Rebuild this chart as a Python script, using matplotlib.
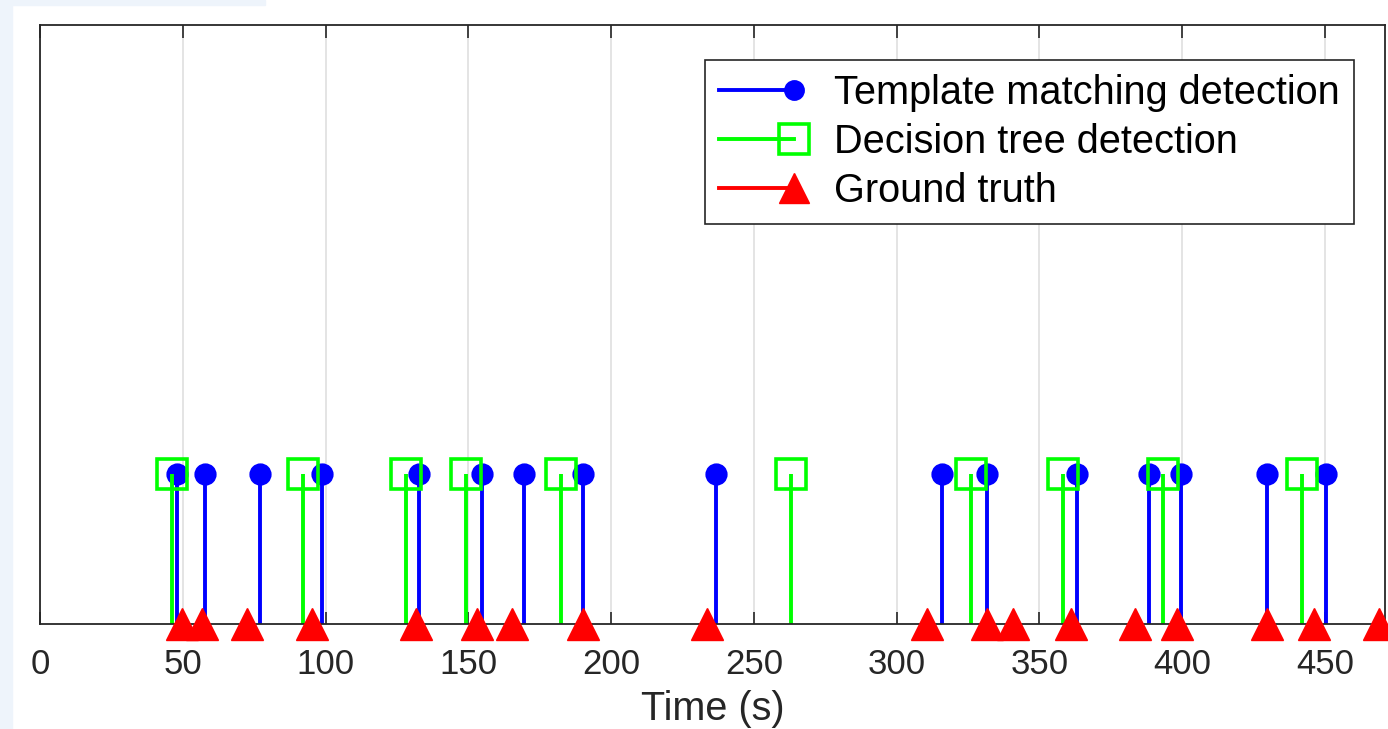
import numpy as np
import matplotlib.pyplot as plt
from matplotlib.lines import Line2D
from matplotlib.legend_handler import HandlerLine2D
from matplotlib.patches import Rectangle

# event times (s)
template_times = [48.0, 57.8, 77.0, 98.7, 132.7, 154.7, 169.4, 190.1, 236.6,
                  315.7, 331.8, 363.3, 388.2, 399.4, 429.8, 450.5]
tree_times = [46.2, 92.1, 128.1, 149.1, 182.4, 262.9, 325.9, 358.1, 393.4, 442.1]
truth_times = [49.7, 56.7, 72.5, 95.2, 131.6, 153.0, 165.2, 190.1, 233.5, 310.5,
               331.8, 340.6, 360.9, 383.3, 398.0, 429.8, 446.3, 469.0]
x_ticks = [0, 50, 100, 150, 200, 250, 300, 350, 400, 450]
labels = ['Template matching detection', 'Decision tree detection', 'Ground truth']

BLUE = (0, 0, 1)
GREEN = (0, 1, 0)
RED = (1, 0, 0)
DARK = '#262626'

plt.rcParams['font.family'] = ['Liberation Sans', 'DejaVu Sans']


class StemHandler(HandlerLine2D):
    """Legend entry like MATLAB stem: line with the marker at its right end"""
    def create_artists(self, legend, orig_handle, xdescent, ydescent,
                       width, height, fontsize, trans):
        y = height / 2 - ydescent
        line = Line2D([-xdescent, width - xdescent], [y, y],
                      color=orig_handle.get_color(),
                      linewidth=orig_handle.get_linewidth())
        mark = Line2D([width - xdescent], [y], linestyle='none',
                      marker=orig_handle.get_marker(),
                      markersize=orig_handle.get_markersize(),
                      markerfacecolor=orig_handle.get_markerfacecolor(),
                      markeredgecolor=orig_handle.get_markeredgecolor(),
                      markeredgewidth=orig_handle.get_markeredgewidth())
        line.set_transform(trans)
        mark.set_transform(trans)
        return [line, mark]


W, H = 1388, 729
fig = plt.figure(figsize=(W / 100, H / 100), dpi=100)

# pale screenshot border
fig.patches.append(Rectangle((0, 0), 12 / W, 1, transform=fig.transFigure,
                             color='#eef4fb', zorder=-1))
fig.patches.append(Rectangle((0, 1 - 5 / H), 265 / W, 5 / H, transform=fig.transFigure,
                             color='#eef4fb', zorder=-1))

ax = fig.add_axes([40 / W, 1 - 624 / H, 1345 / W, 599 / H])

# template matching stems
ml, sl, bl = ax.stem(template_times, np.ones(len(template_times)))
sl.set(color=BLUE, linewidth=2.8)
ml.set(marker='o', markersize=14, markerfacecolor=BLUE, markeredgecolor=BLUE,
       markeredgewidth=2)
bl.set_visible(False)

# decision tree stems
ml, sl, bl = ax.stem(tree_times, np.ones(len(tree_times)))
sl.set(color=GREEN, linewidth=2.8)
ml.set(marker='s', markersize=22, markerfacecolor='none', markeredgecolor=GREEN,
       markeredgewidth=2.6)
bl.set_visible(False)

# ground truth sits on the baseline
ax.plot(truth_times, np.zeros(len(truth_times)), linestyle='none', marker='^',
        markersize=23, color=RED, clip_on=False, zorder=5)

ax.set_xlim(0, 471)
ax.set_ylim(0, 4)
ax.set_xticks(x_ticks)
ax.set_yticks([])
ax.tick_params(axis='x', direction='in', top=True, length=9, width=1.2,
               labelsize=25, pad=17, colors=DARK)
ax.grid(axis='x', color='#e2e2e2', linewidth=1.3)
ax.set_axisbelow(True)
for s in ax.spines.values():
    s.set_color(DARK)
    s.set_linewidth(1.3)
ax.set_xlabel('Time (s)', fontsize=28.5, color=DARK, labelpad=6.5)

handles = [
    Line2D([], [], color=BLUE, linewidth=2.8, marker='o', markersize=13,
           markerfacecolor=BLUE, markeredgecolor=BLUE, markeredgewidth=2),
    Line2D([], [], color=GREEN, linewidth=2.8, marker='s', markersize=22,
           markerfacecolor='none', markeredgecolor=GREEN, markeredgewidth=2.6),
    Line2D([], [], color=RED, linewidth=2.8, marker='^', markersize=22,
           markerfacecolor=RED, markeredgecolor=RED),
]
leg = fig.legend(handles, labels, loc='upper left',
                 bbox_to_anchor=(705 / W, 1 - 60 / H), bbox_transform=fig.transFigure,
                 borderaxespad=0, handler_map={Line2D: StemHandler()},
                 fontsize=28.6, handlelength=1.9, handletextpad=1.0, borderpad=0.35,
                 labelspacing=0.28, fancybox=False, edgecolor=DARK, framealpha=1)
leg.get_frame().set_linewidth(1.2)

fig.savefig('out.png', dpi=100)
